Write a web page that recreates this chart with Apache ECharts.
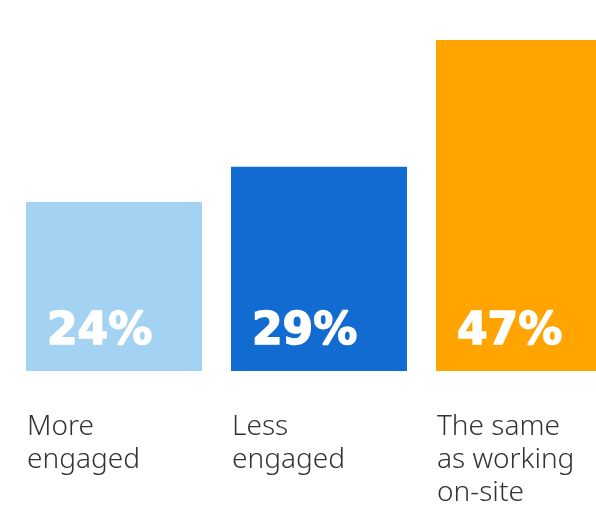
<!DOCTYPE html>
<html>
<head>
<meta charset="utf-8">
<script src="https://cdn.jsdelivr.net/npm/echarts@6/dist/echarts.min.js"></script>
<style>html,body{margin:0;padding:0;background:#fff}#c{width:596px;height:513px}</style>
</head>
<body>
<div id="c"></div>
<script>
const categories = ['More\nengaged', 'Less\nengaged', 'The same\nas working\non-site'];
const values = [24, 29, 47];
const barColors = ['#A4D2F2', '#126BD1', '#FFA400'];

const chart = echarts.init(document.getElementById('c'), null, {renderer: 'canvas'});
chart.setOption({
  animation: false,
  grid: {left: 11.5, width: 615, top: 19, height: 352, containLabel: false, outerBoundsMode: 'none'},
  xAxis: {
    type: 'category', data: categories,
    axisLine: {show: false}, axisTick: {show: false}, axisLabel: {show: false}
  },
  yAxis: {type: 'value', min: 0, max: 50, show: false, splitLine: {show: false}},
  series: [
    {
      type: 'bar', barWidth: 176,
      data: values.map((v, i) => ({value: v, itemStyle: {color: barColors[i]}})),
      label: {
        show: true, position: ['0%', '100%'], offset: [21, -16],
        align: 'left', verticalAlign: 'bottom',
        formatter: '{c}%', color: '#fff',
        textBorderColor: '#fff', textBorderWidth: 1.5,
        fontFamily: 'DejaVu Sans', fontWeight: 'bold', fontSize: 44
      }
    },
    {
      type: 'bar', barWidth: 176, barGap: '-100%', silent: true,
      data: values.map(v => ({value: v, itemStyle: {color: 'rgba(0,0,0,0)'}})),
      label: {
        show: true, position: ['0%', '100%'], offset: [1, 40],
        align: 'left', verticalAlign: 'top',
        formatter: p => p.name, color: '#333',
        fontFamily: 'Noto Sans', fontWeight: 300, fontSize: 28, lineHeight: 33
      }
    }
  ]
});
</script>
</body>
</html>
